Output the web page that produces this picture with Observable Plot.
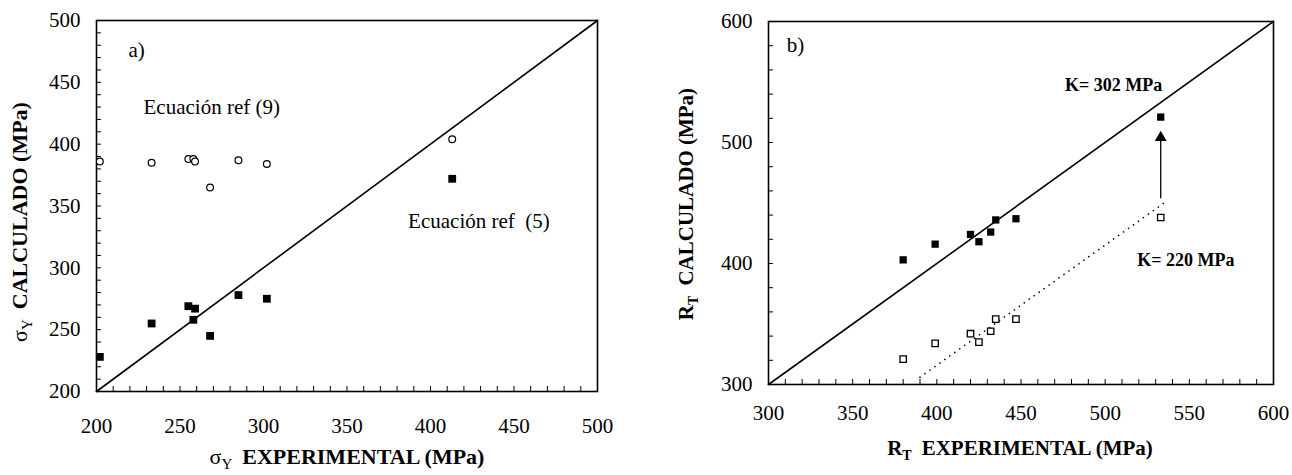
<!DOCTYPE html>
<html><head><meta charset="utf-8">
<script src="https://cdn.jsdelivr.net/npm/d3@7"></script>
<script src="https://cdn.jsdelivr.net/npm/@observablehq/plot@0.6"></script>
<style>
body{margin:0;background:#fff;width:1292px;height:475px;position:relative;overflow:hidden;font-family:"Liberation Serif","Times New Roman","DejaVu Serif",serif}
#a{position:absolute;left:0;top:0}
#b{position:absolute;left:640px;top:0}
svg text, svg tspan{font-family:"Liberation Serif","Times New Roman","DejaVu Serif",serif !important}
</style></head><body><div id="a"></div><div id="b"></div>
<script>
// ---- Panel a data ----
const aDomain = [200, 500];
const aTicks = [200, 250, 300, 350, 400, 450, 500];
const aExpRef5 = [202, 233, 255, 259, 258, 268, 285, 302, 413];
const aCalcRef5 = [228, 255, 269, 267, 258, 245, 278, 275, 372];
const aExpRef9 = [202, 233, 255, 258, 259, 268, 285, 302, 413];
const aCalcRef9 = [386, 385, 388, 388, 386, 365, 387, 384, 404];
const aLabels = ["a)", "Ecuación ref (9)", "Ecuación ref  (5)"];
const aLabelX = [224, 269, 429];
const aLabelY = [476, 430, 338];

// ---- Panel b data ----
const bDomain = [300, 600];
const bTicks = [300, 400, 500, 600];
const bXTicks = [300, 350, 400, 450, 500, 550, 600];
const bExp = [380, 399, 420, 425, 432, 435, 447, 533];
const bCalcK302 = [403, 416, 424, 418, 426, 436, 437, 521];
const bCalcK220 = [321, 334, 342, 335, 344, 354, 354, 438];
const bFitX = [390, 537];
const bFitY = [306, 452];
const bArrowX = [533];
const bArrowY1 = [454];
const bArrowY2 = [504];
const bLabels = ["b)", "K= 302 MPa", "K= 220 MPa"];
const bLabelX = [316, 505, 548];
const bLabelY = [580, 547, 403];

const FONT = "'Liberation Serif', 'Times New Roman', 'DejaVu Serif', serif";
const rows = (xs, ys) => xs.map((x, i) => ({x, y: ys[i]}));

function addTitle(svg, x, y, rotate, size, parts) {
  const t = d3.select(svg).append("text")
    .attr("transform", `translate(${x},${y}) rotate(${rotate})`)
    .attr("text-anchor", "middle")
    .attr("fill", "#000");
  parts.forEach(p => {
    const s = t.append("tspan").text(p.t)
      .attr("font-size", p.sub ? Math.round(size * 0.66) : size)
      .attr("font-weight", p.bold ? "bold" : "normal");
    if (p.dy) s.attr("dy", p.dy);
    if (p.dx) s.attr("dx", p.dx);
  });
}

// ---- Panel a ----
const pa = Plot.plot({
  width: 620, height: 475,
  marginLeft: 96, marginRight: 23, marginTop: 20, marginBottom: 84,
  style: {fontFamily: FONT, fontSize: "21px", color: "#000", background: "#fff", overflow: "visible"},
  x: {domain: aDomain},
  y: {domain: aDomain},
  marks: [
    Plot.axisX({ticks: d3.range(200, 501, 10), tickSize: 5, dy: -5, text: null, label: null}),
    Plot.axisY({ticks: d3.range(200, 501, 10), tickSize: 5, dx: 5, text: null, label: null}),
    Plot.axisX({ticks: aTicks, tickSize: 0, tickPadding: 27, label: null, fontSize: 21}),
    Plot.axisY({ticks: aTicks, tickSize: 0, tickPadding: 16, label: null, fontSize: 21}),
    Plot.frame({stroke: "#000", strokeWidth: 1.6}),
    Plot.line(rows(aDomain, aDomain), {x: "x", y: "y", stroke: "#000", strokeWidth: 1.6}),
    Plot.dot(rows(aExpRef9, aCalcRef9), {x: "x", y: "y", r: 3.4, stroke: "#000", strokeWidth: 1.2, fill: "#fff"}),
    Plot.dot(rows(aExpRef5, aCalcRef5), {x: "x", y: "y", symbol: "square", r: 4.4, fill: "#000", stroke: "none"}),
    Plot.text(aLabels.map((t, i) => ({t, x: aLabelX[i], y: aLabelY[i]})), {x: "x", y: "y", text: "t", fontSize: 21, fill: "#000"})
  ]
});
document.getElementById("a").append(pa);
addTitle(pa, 347, 464, 0, 22, [{t: "σ"}, {t: "Y", sub: true, dy: 5}, {t: "EXPERIMENTAL (MPa)", bold: true, dy: -5, dx: 10}]);
addTitle(pa, 27, 222, -90, 22, [{t: "σ"}, {t: "Y", sub: true, dy: 5}, {t: "CALCULADO (MPa)", bold: true, dy: -5, dx: 10}]);

// ---- Panel b ----
const pb = Plot.plot({
  width: 652, height: 475,
  marginLeft: 128, marginRight: 19, marginTop: 21, marginBottom: 91,
  style: {fontFamily: FONT, fontSize: "21px", color: "#000", background: "#fff", overflow: "visible"},
  x: {domain: bDomain},
  y: {domain: bDomain},
  marks: [
    Plot.axisX({ticks: d3.range(300, 601, 10), tickSize: 5, dy: -5, text: null, label: null}),
    Plot.axisY({ticks: d3.range(300, 601, 20), tickSize: 5, dx: 5, text: null, label: null}),
    Plot.axisX({ticks: bXTicks, tickSize: 0, tickPadding: 21, label: null, fontSize: 21}),
    Plot.axisY({ticks: bTicks, tickSize: 0, tickPadding: 16, label: null, fontSize: 21}),
    Plot.frame({stroke: "#000", strokeWidth: 1.6}),
    Plot.line(rows(bDomain, bDomain), {x: "x", y: "y", stroke: "#000", strokeWidth: 1.6}),
    Plot.line(rows(bFitX, bFitY), {x: "x", y: "y", stroke: "#000", strokeWidth: 1.6, strokeDasharray: "0.1,6", strokeLinecap: "round"}),
    Plot.link(bArrowX.map((x, i) => ({x, y1: bArrowY1[i], y2: bArrowY2[i]})), {x1: "x", x2: "x", y1: "y1", y2: "y2", stroke: "#000", strokeWidth: 1.3}),
    Plot.dot(bArrowX.map((x, i) => ({x, y: bArrowY2[i]})), {x: "x", y: "y", symbol: "triangle", r: 4.4, fill: "#000", stroke: "none"}),
    Plot.dot(rows(bExp, bCalcK220), {x: "x", y: "y", symbol: "square", r: 3.6, stroke: "#000", strokeWidth: 1.3, fill: "#fff"}),
    Plot.dot(rows(bExp, bCalcK302), {x: "x", y: "y", symbol: "square", r: 4.1, fill: "#000", stroke: "none"}),
    Plot.text([{t: bLabels[0], x: bLabelX[0], y: bLabelY[0]}], {x: "x", y: "y", text: "t", fontSize: 21, fill: "#000"}),
    Plot.text(bLabels.slice(1).map((t, i) => ({t, x: bLabelX[i + 1], y: bLabelY[i + 1]})), {x: "x", y: "y", text: "t", fontSize: 18, fontWeight: "bold", fill: "#000"})
  ]
});
document.getElementById("b").append(pb);
addTitle(pb, 380, 455, 0, 21, [{t: "R", bold: true}, {t: "T", bold: true, sub: true, dy: 5}, {t: "EXPERIMENTAL (MPa)", bold: true, dy: -5, dx: 10}]);
addTitle(pb, 53, 204, -90, 21, [{t: "R", bold: true}, {t: "T", bold: true, sub: true, dy: 5}, {t: "CALCULADO (MPa)", bold: true, dy: -5, dx: 10}]);
</script>
</body></html>
